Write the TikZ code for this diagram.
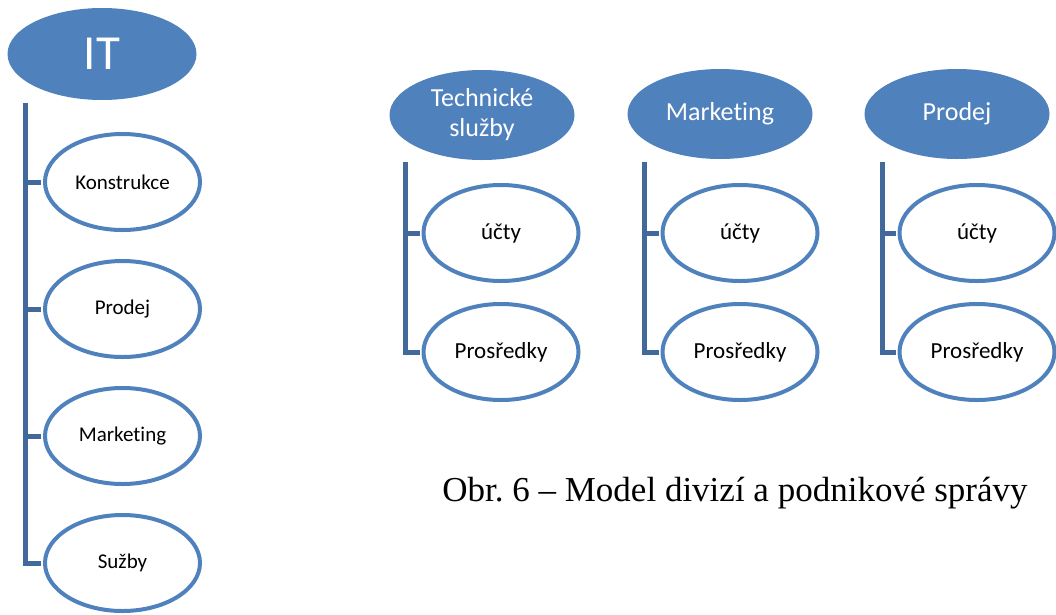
\documentclass[tikz,border=0pt]{standalone}
\usepackage{fontspec}
\setmainfont[Ligatures=NoCommon]{Carlito}
\newfontfamily\captionfont{Liberation Serif}
\usetikzlibrary{shapes.geometric}
\definecolor{divblue}{HTML}{4F81BD}
\definecolor{divline}{HTML}{41699B}

\begin{document}
\begin{tikzpicture}[x=1pt, y=-1pt,
  headnode/.style={ellipse, fill=divblue, text=white, inner sep=0pt, minimum width=185pt, minimum height=90pt, align=center, font=\fontsize{26}{30}\selectfont},
  subnode/.style={ellipse, draw=divblue, line width=4pt, fill=white, inner sep=0pt, minimum width=155pt, minimum height=96pt, align=center, font=\fontsize{23}{28}\selectfont},
  smallsub/.style={subnode, font=\fontsize{21}{25}\selectfont},
  conn/.style={draw=divline, line width=5pt}
]
  \useasboundingbox (0,0) rectangle (1056,614);

  % IT column
  \node[headnode, minimum width=189pt, minimum height=92pt, font=\fontsize{49}{55}\selectfont] (it) at (102,54) {IT};
  \coordinate (itTop) at (25,103);
  \node[smallsub] (konstrukce) at (122.5,182) {Konstrukce};
  \node[smallsub] (prodej) at (122.5,309) {Prodej};
  \node[smallsub] (marketing) at (122.5,436) {Marketing};
  \node[smallsub] (sluzby) at (122.5,563) {Sužby};
  \draw[conn, shorten >=2pt] (itTop) |- (sluzby.west);
  \draw[conn, shorten >=2pt] (itTop |- konstrukce.west) -- (konstrukce.west);
  \draw[conn, shorten >=2pt] (itTop |- prodej.west) -- (prodej.west);
  \draw[conn, shorten >=2pt] (itTop |- marketing.west) -- (marketing.west);

  % Technicke sluzby
  \node[headnode] (tech) at (482,115) {Technické\\služby};
  \coordinate (techTop) at (405,162);
  \node[subnode] (techUcty) at (501,233) {účty};
  \node[subnode] (techProst) at (501,352) {Prosředky};
  \draw[conn, shorten >=2pt] (techTop) |- (techProst.west);
  \draw[conn, shorten >=2pt] (techTop |- techUcty.west) -- (techUcty.west);

  % Marketing
  \node[headnode] (mark) at (720,114) {Marketing};
  \coordinate (markTop) at (644,162);
  \node[subnode] (markUcty) at (740,233) {účty};
  \node[subnode] (markProst) at (740,352) {Prosředky};
  \draw[conn, shorten >=2pt] (markTop) |- (markProst.west);
  \draw[conn, shorten >=2pt] (markTop |- markUcty.west) -- (markUcty.west);

  % Prodej
  \node[headnode] (prod) at (957,114) {Prodej};
  \coordinate (prodTop) at (882,162);
  \node[subnode] (prodUcty) at (977,233) {účty};
  \node[subnode] (prodProst) at (977,352) {Prosředky};
  \draw[conn, shorten >=2pt] (prodTop) |- (prodProst.west);
  \draw[conn, shorten >=2pt] (prodTop |- prodUcty.west) -- (prodUcty.west);

  \node[font=\captionfont\fontsize{35}{40}\selectfont] (caption) at (735,493) {Obr.\ 6 – Model divizí a podnikové správy};
\end{tikzpicture}
\end{document}
